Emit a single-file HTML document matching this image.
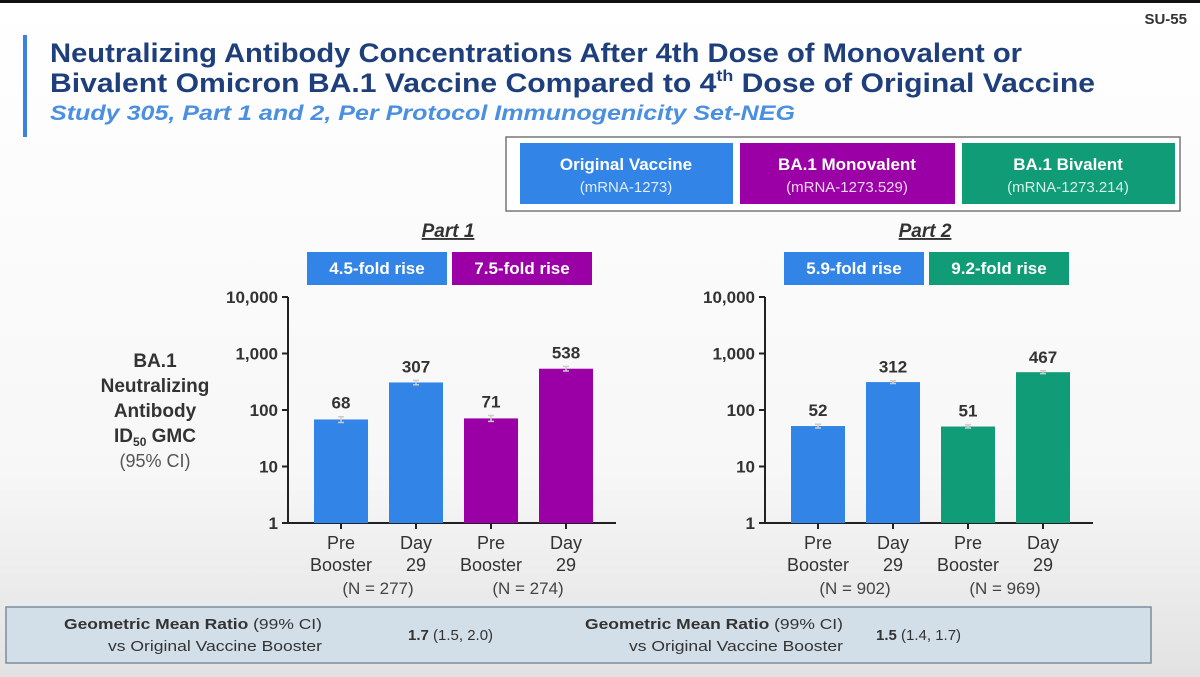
<!DOCTYPE html>
<html><head><meta charset="utf-8"><style>
body{margin:0;width:1200px;height:677px;overflow:hidden;background:#fff}
svg{display:block;font-family:"Liberation Sans",sans-serif}
</style></head><body>
<svg width="1200" height="677" viewBox="0 0 1200 677">
<defs><linearGradient id="bg" x1="0" y1="0" x2="0" y2="1"><stop offset="0" stop-color="#ffffff"/><stop offset="0.7" stop-color="#f7f7f7"/><stop offset="1" stop-color="#e2e2e2"/></linearGradient></defs>
<rect width="1200" height="677" fill="url(#bg)"/>
<rect width="1200" height="3" fill="#111"/>
<text x="1187" y="24" text-anchor="end" font-size="15" font-weight="bold" fill="#333">SU-55</text>
<rect x="23" y="35" width="4" height="102" fill="#3b82e0"/>
<text x="50" y="62" font-size="27" font-weight="bold" fill="#1e3f7c" textLength="972" lengthAdjust="spacingAndGlyphs">Neutralizing Antibody Concentrations After 4th Dose of Monovalent or</text>
<text x="50" y="92" font-size="27" font-weight="bold" fill="#1e3f7c" textLength="1045" lengthAdjust="spacingAndGlyphs">Bivalent Omicron BA.1 Vaccine Compared to 4<tspan font-size="16" dy="-11">th</tspan><tspan dy="11"> Dose of Original Vaccine</tspan></text>
<text x="50" y="120" font-size="21" font-weight="bold" font-style="italic" fill="#4a8fe0" textLength="745" lengthAdjust="spacingAndGlyphs">Study 305, Part 1 and 2, Per Protocol Immunogenicity Set-NEG</text>

<g>
<rect x="506" y="137" width="674" height="74" fill="#fff" stroke="#777" stroke-width="1.5"/>
<rect x="520" y="143" width="213" height="61" fill="#3284e6"/>
<rect x="740" y="143" width="215" height="61" fill="#9a00a6"/>
<rect x="962" y="143" width="213" height="61" fill="#0f9c77"/>
<g fill="#fff" text-anchor="middle">
<text x="626" y="170" font-size="17" font-weight="bold">Original  Vaccine</text>
<text x="626" y="192" font-size="15" fill="#e0ecff">(mRNA-1273)</text>
<text x="847" y="170" font-size="17" font-weight="bold">BA.1 Monovalent</text>
<text x="847" y="192" font-size="15" fill="#f2d8f4">(mRNA-1273.529)</text>
<text x="1068" y="170" font-size="17" font-weight="bold">BA.1 Bivalent</text>
<text x="1068" y="192" font-size="15" fill="#d6f2ea">(mRNA-1273.214)</text>
</g></g>

<g text-anchor="middle" fill="#333">
<text x="155" y="367" font-size="19" font-weight="bold">BA.1</text>
<text x="155" y="392" font-size="19" font-weight="bold">Neutralizing</text>
<text x="155" y="417" font-size="19" font-weight="bold">Antibody</text>
<text x="155" y="442" font-size="19" font-weight="bold">ID<tspan font-size="12" dy="4">50</tspan><tspan dy="-4"> GMC</tspan></text>
<text x="155" y="467" font-size="18" fill="#555">(95% CI)</text>
</g>

<rect x="6" y="607" width="1145" height="56" fill="#d3dfe8" stroke="#7a8ea0" stroke-width="1.5"/>
<g fill="#333">
<text x="322" y="629" font-size="15" text-anchor="end" textLength="258" lengthAdjust="spacingAndGlyphs"><tspan font-weight="bold">Geometric Mean Ratio</tspan> (99% CI)</text>
<text x="322" y="651" font-size="15" text-anchor="end" textLength="214" lengthAdjust="spacingAndGlyphs">vs Original Vaccine Booster</text>
<text x="408" y="640" font-size="15"><tspan font-weight="bold">1.7</tspan> (1.5, 2.0)</text>
<text x="843" y="629" font-size="15" text-anchor="end" textLength="258" lengthAdjust="spacingAndGlyphs"><tspan font-weight="bold">Geometric Mean Ratio</tspan> (99% CI)</text>
<text x="843" y="651" font-size="15" text-anchor="end" textLength="214" lengthAdjust="spacingAndGlyphs">vs Original Vaccine Booster</text>
<text x="876" y="640" font-size="15"><tspan font-weight="bold">1.5</tspan> (1.4, 1.7)</text>
</g>
<g id="charts"></g>
</svg>
<script>
const categories=["Pre Booster","Day 29","Pre Booster","Day 29"];
const part1Values=[68,307,71,538];
const part1Lo=[60,280,63,490];
const part1Hi=[76,335,80,590];
const part2Values=[52,312,51,467];
const part2Lo=[48,295,48,440];
const part2Hi=[56,330,55,495];
const yTicks=[1,10,100,1000,10000];
const yTickLabels=["1","10","100","1,000","10,000"];
const part1N=["(N = 277)","(N = 274)"];
const part2N=["(N = 902)","(N = 969)"];
const part1Folds=["4.5-fold rise","7.5-fold rise"];
const part2Folds=["5.9-fold rise","9.2-fold rise"];

const NS="http://www.w3.org/2000/svg";
const root=document.getElementById('charts');
function mk(tag,attrs,parent,text){const e=document.createElementNS(NS,tag);for(const k in attrs)e.setAttribute(k,attrs[k]);if(text!==undefined)e.textContent=text;(parent||root).appendChild(e);return e;}
function yScale(v){return 523-Math.log10(v)*56.5;}
function drawChart(ax,title,vals,lo,hi,ns,folds,colors,foldColors,key){
  const g=mk('g',{});
  
  
  const cx=ax+160;
  const t=mk('text',{x:cx,y:237,'text-anchor':'middle','font-size':19,'font-weight':'bold','font-style':'italic',fill:'#333','text-decoration':'underline'},g,title);
  
  
  folds.forEach((f,i)=>{
    const bx=ax+19+i*145;
    const r=mk('rect',{x:bx,y:252,width:140,height:33,fill:foldColors[i]},g);
    
    
    mk('text',{x:bx+70,y:274,'text-anchor':'middle','font-size':17,'font-weight':'bold',fill:'#fff'},g,f);
  });
  const axis=mk('path',{d:`M${ax},297 V523 H${ax+328}`,stroke:'#222','stroke-width':2,fill:'none'},g);
  
  
  yTicks.forEach((v,i)=>{
    const y=yScale(v);
    mk('line',{x1:ax-6,x2:ax,y1:y,y2:y,stroke:'#222','stroke-width':2},g);
    const l=mk('text',{x:ax-10,y:y+6,'text-anchor':'end','font-size':17,'font-weight':'bold',fill:'#333'},g,yTickLabels[i]);
    
    
  });
  vals.forEach((v,i)=>{
    const x=ax+26+i*75, w=54, y=yScale(v);
    const b=mk('rect',{x:x,y:y,width:w,height:523-y,fill:colors[i]},g);
    
    
    const mx=x+w/2;
    mk('path',{d:`M${mx},${yScale(hi[i])} V${yScale(lo[i])} M${mx-3},${yScale(hi[i])} H${mx+3} M${mx-3},${yScale(lo[i])} H${mx+3}`,stroke:'#ccc','stroke-width':1.5,fill:'none'},g);
    const vl=mk('text',{x:mx,y:yScale(hi[i])-8,'text-anchor':'middle','font-size':17,'font-weight':'bold',fill:'#333'},g,String(v));
    
    
    mk('line',{x1:mx,x2:mx,y1:523,y2:529,stroke:'#222','stroke-width':2},g);
    const parts=categories[i].split(' ');
    const cat=mk('text',{'text-anchor':'middle','font-size':18,fill:'#333'},g);
    
    
    mk('tspan',{x:mx,y:549},cat,parts[0]);
    mk('tspan',{x:mx,y:571},cat,parts[1]);
  });
  ns.forEach((n,i)=>{
    mk('text',{x:ax+26+i*150+64,y:594,'text-anchor':'middle','font-size':17,fill:'#444'},g,n);
  });
}
const B='#3284e6',P='#9a00a6',G='#0f9c77';
drawChart(288,'Part 1',part1Values,part1Lo,part1Hi,part1N,part1Folds,[B,B,P,P],[B,P],'part1');
drawChart(765,'Part 2',part2Values,part2Lo,part2Hi,part2N,part2Folds,[B,B,G,G],[B,G],'part2');
</script>
</body></html>
